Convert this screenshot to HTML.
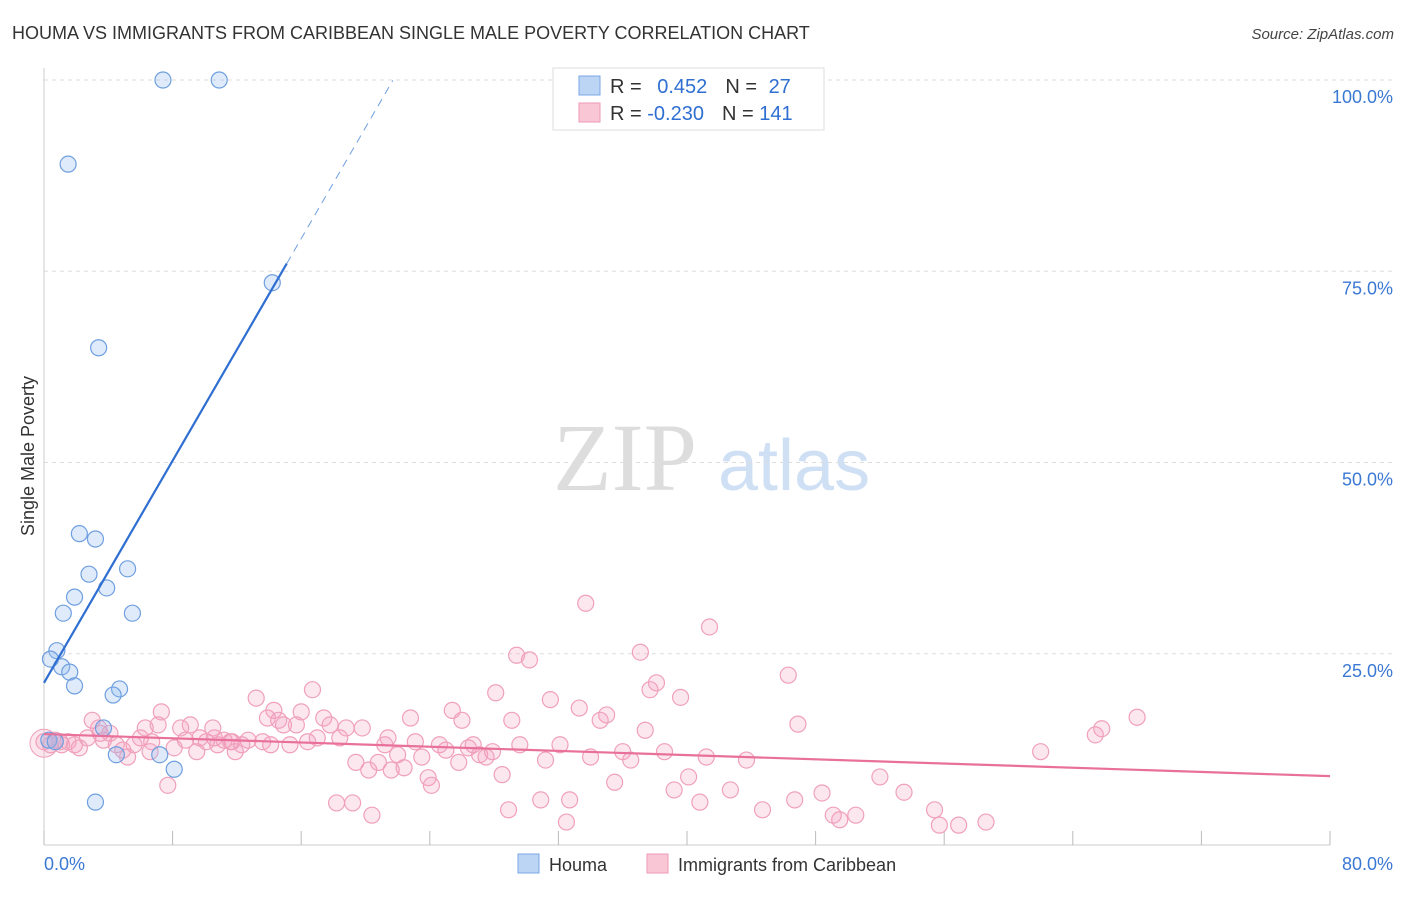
<!DOCTYPE html>
<html><head><meta charset="utf-8"><style>
body{margin:0;background:#fff;font-family:"Liberation Sans",sans-serif}
</style></head><body>
<svg id="chart" width="1406" height="892" xmlns="http://www.w3.org/2000/svg" style="font-family:'Liberation Sans',sans-serif">
<text x="12" y="39" font-size="18" fill="#333">HOUMA VS IMMIGRANTS FROM CARIBBEAN SINGLE MALE POVERTY CORRELATION CHART</text>
<text x="1394" y="39" font-size="15" fill="#444" text-anchor="end" font-style="italic">Source: ZipAtlas.com</text>
<g>
<text x="553" y="490" font-size="96" fill="#ddd" font-family="Liberation Serif,serif">ZIP</text>
<text x="718" y="490" font-size="72" fill="#cfe0f5">atlas</text>
</g>
<g id="grid"></g>
<g id="axes"></g>
<g id="marks"></g>
<text transform="translate(34,456) rotate(-90)" font-size="18" fill="#333" text-anchor="middle">Single Male Poverty</text>
<g>
<rect x="553" y="68" width="271" height="62" fill="#fff" stroke="#ddd"/>
<rect x="579" y="76" width="21" height="19" fill="#bcd5f5" stroke="#7aa7e6"/>
<rect x="579" y="103" width="21" height="19" fill="#f9c6d5" stroke="#ef9ab5"/>
<text x="610" y="93" font-size="20" fill="#333">R = <tspan fill="#2f6fd1" dx="10">0.452</tspan><tspan fill="#333" dx="18">N = </tspan><tspan fill="#2f6fd1" dx="6">27</tspan></text>
<text x="610" y="120" font-size="20" fill="#333">R = <tspan fill="#2f6fd1">-0.230</tspan><tspan fill="#333" dx="18">N = </tspan><tspan fill="#2f6fd1">141</tspan></text>
</g>
<g>
<rect x="518" y="854" width="21" height="19" fill="#bcd5f5" stroke="#7aa7e6"/>
<text x="549" y="871" font-size="18" fill="#333">Houma</text>
<rect x="647" y="854" width="21" height="19" fill="#f9c6d5" stroke="#ef9ab5"/>
<text x="678" y="871" font-size="18" fill="#333">Immigrants from Caribbean</text>
</g>
</svg>
<script>
const xTicks=[0,8,16,24,32,40,48,56,64,72,80];
const yTicks=[25,50,75,100];
const houmaX=[7.4,10.9,1.5,14.2,3.4,2.2,3.2,2.8,5.2,1.9,3.9,1.2,5.5,0.8,0.4,1.1,1.6,1.9,4.7,4.3,3.7,0.3,0.7,4.5,7.2,8.1,3.2];
const houmaY=[100,100,89.0,73.5,65.0,40.7,40.0,35.4,36.1,32.4,33.6,30.3,30.3,25.4,24.3,23.3,22.6,20.8,20.4,19.6,15.3,13.7,13.5,11.8,11.8,9.9,5.6];
const caribX=[0,0.4,0.7,1.1,1.5,1.9,2.2,2.7,3.0,3.4,3.7,4.1,4.5,4.9,5.2,5.6,6.0,6.3,6.7,7.1,7.3,7.7,8.1,8.5,8.8,9.1,9.5,9.7,10.1,10.5,10.8,11.2,11.6,11.9,12.3,12.7,13.2,13.6,13.9,14.3,14.6,14.9,15.3,15.7,16.0,16.4,16.7,17.0,17.4,17.8,18.2,18.4,18.8,19.2,19.4,19.8,20.2,20.4,20.8,21.2,21.4,21.6,22.0,22.4,22.8,23.1,23.5,23.9,24.1,24.6,25.0,25.4,25.8,26.0,26.4,26.7,27.1,27.5,27.9,28.1,28.5,28.9,29.1,29.4,29.6,30.2,30.9,31.2,31.5,32.1,32.5,32.7,33.3,33.7,34.0,34.6,35.0,35.5,36.0,36.5,37.1,37.4,37.7,38.1,38.6,39.2,39.6,40.1,40.8,41.2,41.4,42.7,43.7,44.7,46.3,46.7,46.9,48.4,49.1,49.5,50.5,52.0,53.5,55.4,55.7,56.9,58.6,62.0,65.4,65.8,68.0,6.6,11.7,10.6,3.5,14.1,1.0];
const caribY=[13.5,13.1,13.7,13.1,13.5,13.1,12.7,14.0,16.3,15.3,13.7,14.6,13.1,12.4,11.5,13.1,14.0,15.3,13.5,15.7,17.4,7.8,12.7,15.3,13.7,15.7,12.2,14.0,13.5,15.3,13.1,13.7,13.5,12.2,13.1,13.7,19.2,13.5,16.6,17.6,16.3,15.7,13.1,15.7,17.4,13.5,20.3,14.0,16.6,15.7,5.5,14.0,15.3,5.5,10.8,15.3,9.8,3.9,10.8,13.1,14.0,9.8,11.8,10.1,16.6,13.5,11.5,8.8,7.8,13.1,12.4,17.6,10.8,16.3,12.7,13.1,11.8,11.5,12.2,19.9,9.2,4.6,16.3,24.8,13.1,24.2,5.9,11.1,19.0,13.1,3.0,5.9,17.9,31.6,11.5,16.3,17.0,8.2,12.2,11.1,25.2,15.0,20.3,21.2,12.2,7.2,19.3,8.9,5.6,11.5,28.5,7.2,11.1,4.6,22.2,5.9,15.8,6.8,3.9,3.3,3.9,8.9,6.9,4.6,2.6,2.6,3.0,12.2,14.4,15.2,16.7,12.2,13.5,14.0,14.6,13.1,13.5];
const X0=44,X1=1330,Y0=845,Y100=80;
const sx=v=>X0+(v/80)*(X1-X0);
const sy=v=>Y0-(v/100)*(Y0-Y100);
const NS="http://www.w3.org/2000/svg";
function mk(t,a,p){const e=document.createElementNS(NS,t);for(const k in a)e.setAttribute(k,a[k]);p.appendChild(e);return e;}
const grid=document.getElementById('grid'),axes=document.getElementById('axes'),marks=document.getElementById('marks');
yTicks.forEach(t=>{
 const l=mk('line',{x1:X0,x2:1394,y1:sy(t),y2:sy(t),stroke:'#ddd','stroke-dasharray':'4,4'},grid);
 
 
 const tx=mk('text',{x:1393,y:sy(t)+23,'font-size':18,fill:'#3b78d4','text-anchor':'end'},axes);
 tx.textContent=t.toFixed(1)+'%';
 
 
});
const yl=mk('line',{x1:X0,x2:X0,y1:68,y2:Y0,stroke:'#ccc'},axes);


const xl=mk('line',{x1:X0,x2:X1,y1:Y0,y2:Y0,stroke:'#ccc'},axes);


xTicks.forEach(t=>{
 const l=mk('line',{x1:sx(t),x2:sx(t),y1:Y0,y2:Y0-14,stroke:'#bbb'},axes);
 
 
});
[[0,'0.0%','start',44],[80,'80.0%','end',1393]].forEach(d=>{
 const tx=mk('text',{x:d[3],y:870,'font-size':18,fill:'#3b78d4','text-anchor':d[2]},axes);
 tx.textContent=d[1];
 
 
});
caribX.forEach((v,i)=>{
 const c=mk('circle',{cx:sx(v),cy:sy(caribY[i]),r:8,fill:'rgba(244,160,190,0.25)',stroke:'#f0a0ba','stroke-width':1.2},marks);
 
 
});
const big=mk('circle',{cx:sx(0),cy:sy(13.3),r:14,fill:'rgba(244,160,190,0.25)',stroke:'#f0a0ba'},marks);


houmaX.forEach((v,i)=>{
 const c=mk('circle',{cx:sx(v),cy:sy(houmaY[i]),r:8,fill:'rgba(150,190,240,0.3)',stroke:'#6f9fe0','stroke-width':1.2},marks);
 
 
});
// trend lines
const hb=[0,21.2],hs=(76-21.2)/15.1;
const hl=mk('line',{x1:sx(0),y1:sy(hb[1]),x2:sx(15.1),y2:sy(hb[1]+hs*15.1),stroke:'#2f6fd1','stroke-width':2.2},marks);


const hd=mk('line',{x1:sx(15.1),y1:sy(hb[1]+hs*15.1),x2:sx(21.7),y2:sy(hb[1]+hs*21.7),stroke:'#6f9fe0','stroke-width':1,'stroke-dasharray':'8,6'},marks);


const cl=mk('line',{x1:sx(0),y1:sy(14.5),x2:sx(80),y2:sy(9.0),stroke:'#e8709a','stroke-width':2.2},marks);


</script>
</body></html>
